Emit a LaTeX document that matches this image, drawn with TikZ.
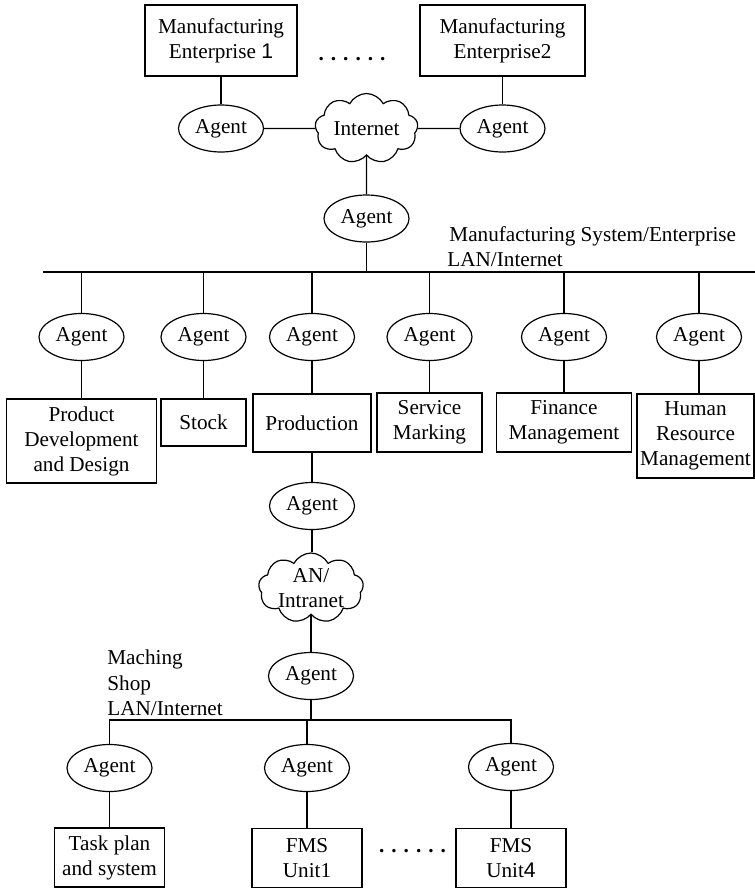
\documentclass[tikz,border=0pt]{standalone}
\usepackage{fontspec}
\setmainfont{Liberation Serif}
\setsansfont{Liberation Sans}
\usetikzlibrary{shapes.geometric,shapes.symbols}
\newcommand{\sixdots}{\textbf{.}\kern0.33em\textbf{.}\kern0.33em\textbf{.}\kern0.33em\textbf{.}\kern0.33em\textbf{.}\kern0.33em\textbf{.}}
\begin{document}
\begin{tikzpicture}[x=0.5pt,y=-0.5pt,
  font=\fontsize{10.6pt}{12.5pt}\selectfont,
  wire/.style={line width=0.6pt},
  box/.style={draw,line width=0.6pt,align=center,inner sep=0pt},
  agent/.style={draw,ellipse,line width=0.6pt,minimum width=42.5pt,minimum height=23.5pt,inner sep=0pt},
  net/.style={draw,cloud,cloud puffs=9,cloud puff arc=125,cloud ignores aspect,
              line width=0.6pt,inner sep=0pt},
  lbl/.style={inner sep=0pt,anchor=base west},
  dotrow/.style={inner sep=0pt,anchor=base}
]
\useasboundingbox (0,0) rectangle (755,889);

% ---------- enterprises linked over the Internet ----------
\node[box,minimum width=76pt,minimum height=35.5pt] (me1) at (221,40.5) {Manufacturing\\Enterprise {\sffamily 1}};
\node[box,minimum width=82.5pt,minimum height=35.5pt] (me2) at (502.5,40.5) {Manufacturing\\Enterprise2};
\node[dotrow] (dotsA) at (352,60) {\sixdots};
\node[agent] (agA) at (221,128.5) {Agent};
\node[net,minimum width=51.5pt,minimum height=35pt,label={center:Internet}] (inet) at (366.5,128.5) {};
\node[agent] (agB) at (502.5,128.5) {Agent};
\node[agent] (agC) at (366.5,218.5) {Agent};

\draw[wire] (me1) -- (agA);
\draw[wire] (agA) -- (inet);
\draw[wire] (inet) -- (agB);
\draw[wire] (me2) -- (agB);
\draw[wire] (inet) -- (agC);

% ---------- enterprise LAN ----------
\coordinate (busW) at (43,272);
\coordinate (busE) at (755,272);
\draw[wire] (busW) -- (busE);
\draw[wire] (agC.south) -- (agC.south |- busW);
\node[lbl] (sysA) at (449,241) {Manufacturing System/Enterprise};
\node[lbl] (sysB) at (447,266) {LAN/Internet};

\node[agent] (ag1) at (81.5,337) {Agent};
\node[agent] (ag2) at (203.5,337) {Agent};
\node[agent] (ag3) at (312,337) {Agent};
\node[agent] (ag4) at (429.5,337) {Agent};
\node[agent] (ag5) at (564,337) {Agent};
\node[agent] (ag6) at (699,337) {Agent};

\node[box,minimum width=75pt,minimum height=42pt] (pdd) at (81.5,441) {Product\\Development\\and Design};
\node[box,minimum width=42.5pt,minimum height=23.5pt] (stock) at (203.5,422.5) {Stock};
\node[box,minimum width=59pt,minimum height=29pt] (prod) at (312,423) {Production};
\node[box,minimum width=52.5pt,minimum height=29.5pt] (serv) at (429.5,422.5) {Service\\Marking};
\node[box,minimum width=67.5pt,minimum height=29.5pt] (fin) at (564,422.5) {Finance\\Management};
\node[box,minimum width=58.5pt,minimum height=42pt] (hrm) at (695.5,436) {Human\\Resource\\Management};

\foreach \a/\b in {ag1/pdd,ag2/stock,ag3/prod,ag4/serv,ag5/fin,ag6/hrm}{
  \draw[wire] (\a.north |- busW) -- (\a.north);
  \draw[wire] (\a.south) -- (\a.south |- \b.north);
}

% ---------- production intranet ----------
\node[agent] (agP) at (312,506) {Agent};
\node[net,minimum width=52.5pt,minimum height=35pt,
      label={[align=center]center:AN/\\Intranet}] (anet) at (311,588) {};
\node[agent] (agS) at (311,676) {Agent};
\draw[wire] (prod) -- (agP);
\draw[wire] (agP.south) -- (agP.south |- anet.north);
\draw[wire] (anet) -- (agS);

% ---------- machining shop LAN ----------
\coordinate (shopW) at (109.5,720);
\node[lbl] (shopA) at (107,664) {Maching};
\node[lbl] (shopB) at (107,690) {Shop};
\node[lbl] (shopC) at (107,715) {LAN/Internet};

\node[agent] (agL) at (109.5,768) {Agent};
\node[agent] (agM) at (307,768) {Agent};
\node[agent] (agR) at (511,767) {Agent};

\draw[wire] (agS.south) -- (agS.south |- shopW);
\draw[wire] (agL.north) -- (agL.north |- shopW) -- (agR.north |- shopW) -- (agR.north);
\draw[wire] (agM.north |- shopW) -- (agM.north);

\node[box,minimum width=55pt,minimum height=29.5pt] (task) at (109.5,857.5) {Task plan\\and system};
\node[box,minimum width=55pt,minimum height=29.5pt] (fms1) at (307,858) {FMS\\Unit1};
\node[box,minimum width=55pt,minimum height=29.5pt] (fms4) at (511,858) {FMS\\Unit{\sffamily 4}};
\node[dotrow] (dotsB) at (412.5,852) {\sixdots};

\draw[wire] (agL) -- (task);
\draw[wire] (agM) -- (fms1);
\draw[wire] (agR) -- (fms4);
\end{tikzpicture}
\end{document}
